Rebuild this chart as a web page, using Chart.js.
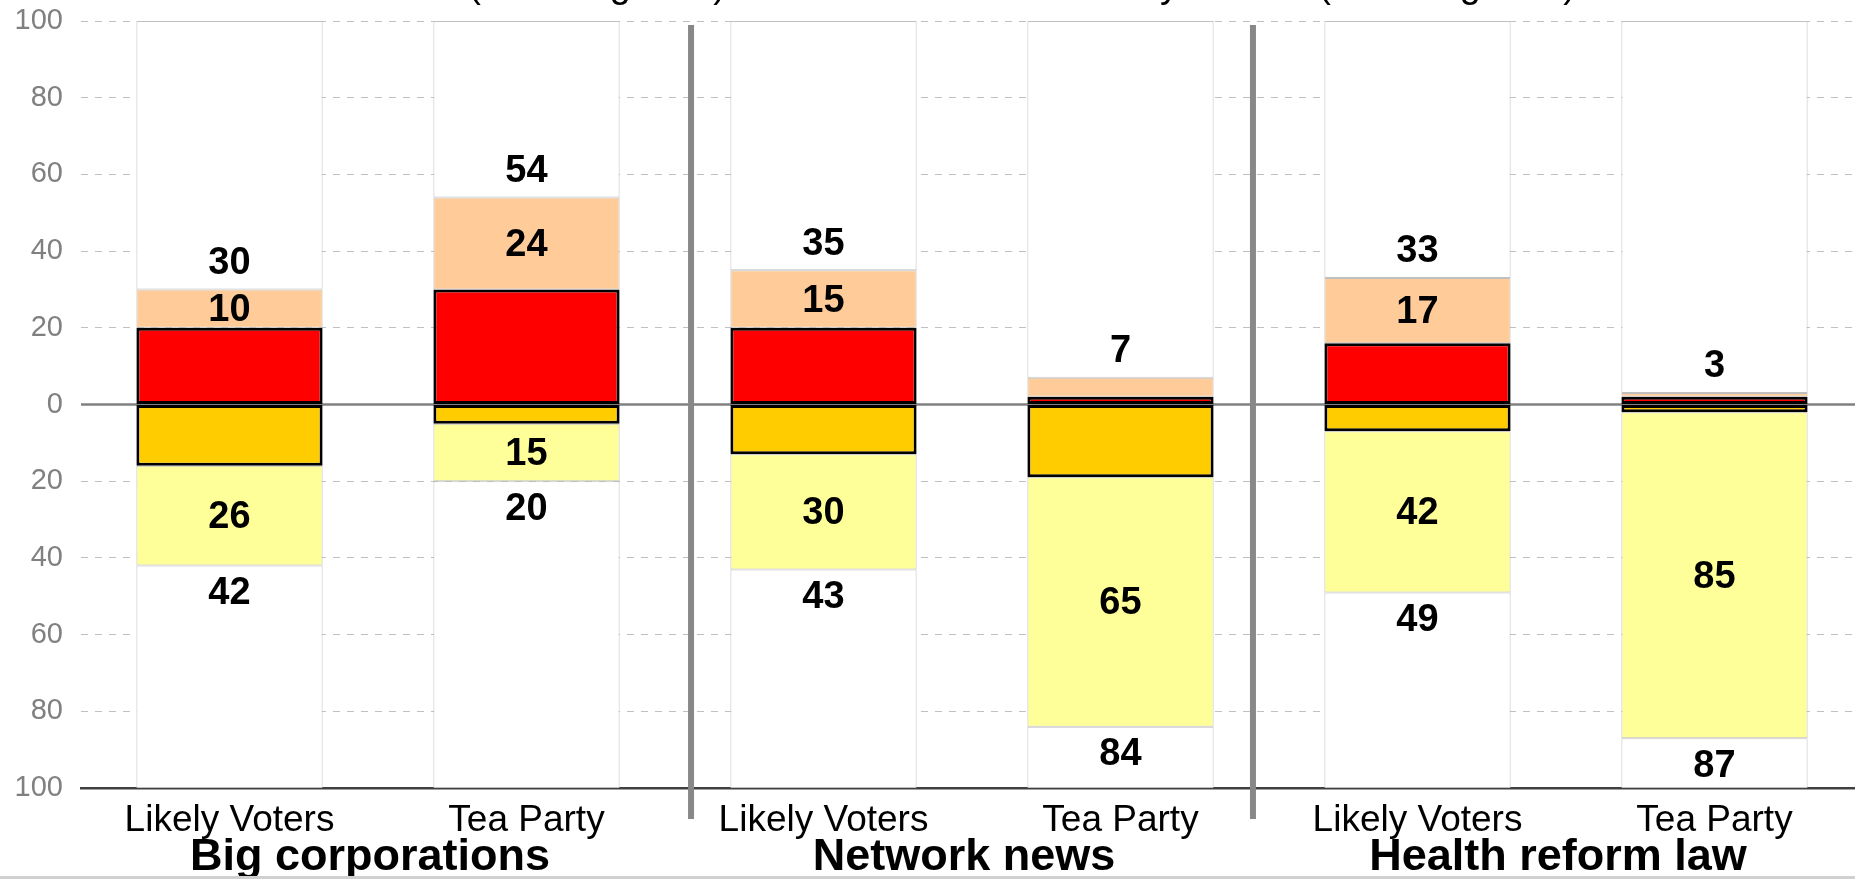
<!DOCTYPE html>
<html>
<head>
<meta charset="utf-8">
<script src="https://cdn.jsdelivr.net/npm/chart.js@4/dist/chart.umd.min.js"></script>
<style>
  html, body { margin: 0; padding: 0; background: #fff; overflow: hidden; }
  #wrap { width: 1864px; height: 879px; }
</style>
</head>
<body>
<div id="wrap"><canvas id="chart" width="1864" height="879"></canvas></div>
<script>
const categories = ['Likely Voters', 'Tea Party', 'Likely Voters', 'Tea Party', 'Likely Voters', 'Tea Party'];
const groups = ['Big corporations', 'Network news', 'Health reform law'];

const strongFav = [20, 30, 20, 2, 16, 2];
const somewhatFav = [10, 24, 15, 5, 17, 1];
const strongUnfav = [16, 5, 13, 19, 7, 2];
const somewhatUnfav = [26, 15, 30, 65, 42, 85];

const yTicks = [-100, -80, -60, -40, -20, 0, 20, 40, 60, 80, 100];
const headerParts = ['Favorable (% strong/total)', 'Unfavorably viewed (% strong/total)'];

const FONT = "'Liberation Sans', Arial, Helvetica, sans-serif";

const totalFav = strongFav.map((v, i) => v + somewhatFav[i]);
const totalUnfav = strongUnfav.map((v, i) => v + somewhatUnfav[i]);

// zero line under the bars
const zeroLine = {
  id: 'zeroLine',
  beforeDatasetsDraw(chart) {
    const { ctx, chartArea, scales } = chart;
    const y = scales.y.getPixelForValue(0);
    ctx.save();
    ctx.strokeStyle = '#808080';
    ctx.lineWidth = 2.5;
    ctx.beginPath();
    ctx.moveTo(chartArea.left, y);
    ctx.lineTo(chartArea.right, y);
    ctx.stroke();
    ctx.restore();
  }
};

// value labels, group separators, group names, cut-off header
const decorations = {
  id: 'decorations',
  afterDatasetsDraw(chart) {
    const { ctx, chartArea, scales } = chart;
    const x = scales.x, y = scales.y;

    // separators between the three topics
    ctx.save();
    ctx.strokeStyle = '#888888';
    ctx.lineWidth = 6;
    [1.554, 3.446].forEach(v => {
      const px = x.getPixelForValue(v);
      ctx.beginPath();
      ctx.moveTo(px, y.getPixelForValue(100) + 4);
      ctx.lineTo(px, chartArea.bottom + 31);
      ctx.stroke();
    });
    ctx.restore();

    const favMeta = chart.getDatasetMeta(2);
    const unfavMeta = chart.getDatasetMeta(3);

    ctx.save();
    ctx.fillStyle = '#000';
    ctx.font = `bold 38px ${FONT}`;
    ctx.textAlign = 'center';
    ctx.textBaseline = 'middle';
    categories.forEach((_, i) => {
      const f = favMeta.data[i];
      const u = unfavMeta.data[i];
      if (somewhatFav[i] >= 10) ctx.fillText(String(somewhatFav[i]), f.x, (f.y + f.base) / 2 + 2);
      ctx.fillText(String(totalFav[i]), f.x, f.y - 26);
      ctx.fillText(String(somewhatUnfav[i]), u.x, (u.y + u.base) / 2 + 2);
      ctx.fillText(String(totalUnfav[i]), u.x, u.y + 28);
    });

    ctx.font = `bold 45px ${FONT}`;
    ctx.textBaseline = 'alphabetic';
    groups.forEach((g, gi) => {
      const cx = (x.getPixelForValue(gi * 2) + x.getPixelForValue(gi * 2 + 1)) / 2 - 8;
      ctx.fillText(g, cx, 870);
    });

    ctx.font = `38px ${FONT}`;
    ctx.textAlign = 'right';
    ctx.fillText(headerParts[0], 726, -3);
    ctx.fillText(headerParts[1], 1576, -3);
    ctx.restore();

    ctx.save();
    ctx.fillStyle = '#D0D0D0';
    ctx.fillRect(0, 876, chart.width, 3);
    ctx.restore();
  }
};

const whiteBar = { backgroundColor: '#FFFFFF', borderColor: '#C0C0C0', borderWidth: 1, borderSkipped: false };

new Chart(document.getElementById('chart'), {
  type: 'bar',
  data: {
    labels: categories,
    datasets: [
      { label: 'Strongly favorable', data: strongFav, backgroundColor: '#FF0000', borderColor: '#000000', borderWidth: 3, borderSkipped: false },
      { label: 'Strongly unfavorable', data: strongUnfav.map(v => -v), backgroundColor: '#FFCC00', borderColor: '#000000', borderWidth: 3, borderSkipped: false },
      { label: 'Somewhat favorable', data: somewhatFav, backgroundColor: '#FFCC99', borderColor: '#C0C0C0', borderWidth: 1, borderSkipped: false },
      { label: 'Somewhat unfavorable', data: somewhatUnfav.map(v => -v), backgroundColor: '#FFFF99', borderColor: '#C0C0C0', borderWidth: 1, borderSkipped: false },
      Object.assign({ label: 'rest top', data: totalFav.map(t => 100 - t) }, whiteBar),
      Object.assign({ label: 'rest bottom', data: totalUnfav.map(t => t - 100) }, whiteBar)
    ]
  },
  options: {
    responsive: false,
    animation: false,
    layout: { padding: { top: 21, right: 1, left: 0, bottom: 0 } },
    datasets: { bar: { categoryPercentage: 1, barPercentage: 0.627 } },
    plugins: { legend: { display: false }, tooltip: { enabled: false }, title: { display: false } },
    scales: {
      x: {
        stacked: true,
        grid: { display: false, drawTicks: false },
        border: { display: true, color: '#404040', width: 2.5 },
        ticks: { color: '#000', padding: 11, font: { family: FONT, size: 37 } },
        afterFit: s => { s.height = 91; }
      },
      y: {
        stacked: true,
        min: -100,
        max: 100,
        afterBuildTicks: s => { s.ticks = yTicks.map(v => ({ value: v })); },
        grid: {
          drawTicks: false,
          lineWidth: 1,
          color: c => (c.tick && (c.tick.value === 0 || c.tick.value === -100)) ? 'rgba(0,0,0,0)' : '#C0C0C0'
        },
        border: { display: false, dash: [7, 7] },
        ticks: {
          color: '#808080',
          padding: 18,
          font: { family: FONT, size: 29 },
          callback: v => Math.abs(v)
        },
        afterFit: s => { s.width = 81; s.paddingTop = 0; s.paddingBottom = 0; }
      }
    }
  },
  plugins: [zeroLine, decorations]
});
</script>
</body>
</html>
